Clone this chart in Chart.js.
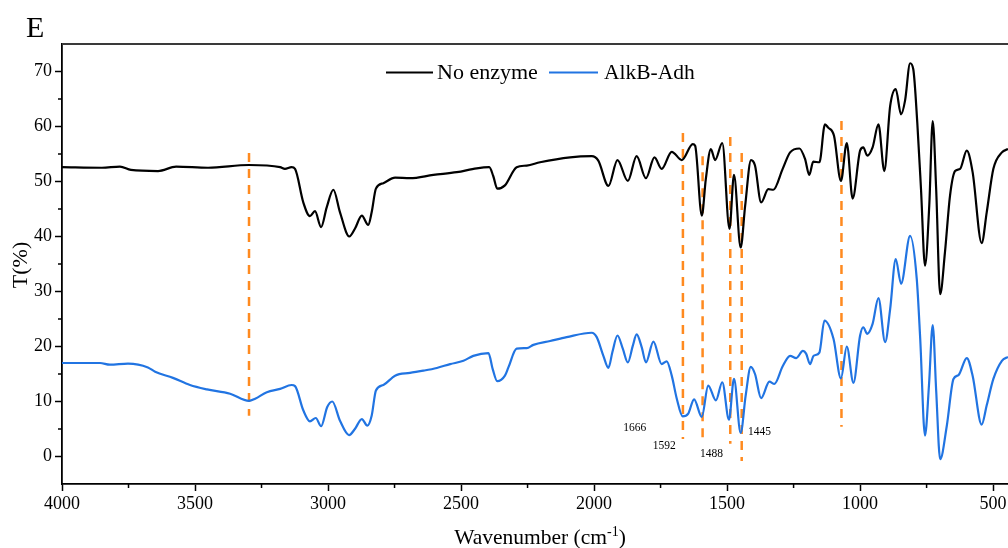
<!DOCTYPE html>
<html><head><meta charset="utf-8">
<script src="https://cdn.jsdelivr.net/npm/chart.js@4.4.1/dist/chart.umd.min.js"></script>
<style>html,body{margin:0;padding:0;background:#fff;overflow:hidden}canvas{display:block}</style>
</head><body>
<canvas id="c" width="1008" height="548"></canvas>
<script>
const xTicks = [4000,3500,3000,2500,2000,1500,1000,500];
const xMinorTicks = [3750,3250,2750,2250,1750,1250,750];
const yTicks = [0,10,20,30,40,50,60,70];
const yMinorTicks = [5,15,25,35,45,55,65];
const seriesNames = ['No enzyme','AlkB-Adh'];

const noEnzymeWn = [4000,3850,3782,3741,3639,3571,3451,3297,3180,3162,3137,3124,3093,3068,3049,3026,3005,2980,2955,2920,2899,2873,2849,2836,2820,2792,2748,2692,2604,2516,2441,2394,2379,2364,2335,2291,2253,2203,2090,2009,1984,1946,1912,1873,1840,1805,1773,1746,1708,1670,1629,1620,1595,1580,1561,1545,1518,1491,1474,1449,1432,1410,1395,1372,1345,1326,1291,1263,1228,1207,1191,1176,1153,1132,1120,1098,1072,1050,1028,1000,988,973,953,931,909,887,866,846,831,812,800,785,771,756,740,727,714,699,681,662,643,624,599,577,543,524,499,467,444];
const noEnzymeT = [52.6,52.5,52.7,52.1,51.9,52.7,52.5,53.0,52.6,52.3,52.6,52.3,46.2,43.7,44.6,41.7,45.3,48.5,44.4,40.0,41.4,43.8,42.1,44.4,48.7,49.7,50.7,50.6,51.2,51.7,52.4,52.6,51.0,48.7,49.3,52.6,52.9,53.5,54.4,54.6,53.8,49.2,53.9,50.1,54.6,50.6,54.4,52.3,55.4,53.9,56.8,56.5,43.8,50.4,55.9,53.9,57.0,41.4,51.2,38.0,45.6,53.9,52.9,46.2,48.6,48.5,52.3,55.3,56.0,54.1,51.2,53.6,53.5,60.4,59.8,58.3,50.1,57.0,46.9,55.6,56.2,54.7,56.2,60.4,51.9,63.7,66.8,62.2,64.7,71.5,70.4,60.7,48.6,34.7,45.6,61.0,48.6,29.5,37.1,47.4,51.9,52.3,55.6,51.7,38.8,44.4,52.3,55.3,55.9];

const alkbWn = [4000,3857,3820,3752,3677,3650,3583,3519,3455,3368,3297,3274,3230,3180,3137,3124,3093,3068,3046,3026,3003,2984,2955,2921,2899,2873,2852,2836,2820,2792,2748,2692,2642,2591,2541,2491,2454,2397,2381,2364,2335,2322,2291,2253,2228,2165,2103,2009,1990,1965,1946,1931,1912,1892,1873,1854,1840,1821,1805,1777,1746,1727,1708,1689,1667,1646,1624,1595,1571,1542,1518,1493,1474,1449,1430,1411,1395,1372,1341,1322,1291,1263,1240,1215,1203,1188,1175,1153,1134,1100,1072,1050,1025,1000,988,973,953,931,906,887,866,846,812,787,774,756,741,727,714,699,674,649,630,599,577,543,524,499,467,444];
const alkbT = [17.0,17.0,16.7,16.9,16.2,15.4,14.3,13.0,12.2,11.4,10.1,10.5,11.7,12.3,13.0,12.8,8.4,6.4,7.0,5.5,9.0,10.0,6.5,3.9,5.0,6.8,5.6,7.4,12.0,13.0,14.7,15.2,15.6,16.1,16.8,17.4,18.3,18.8,15.9,13.7,14.7,16.2,19.6,19.7,20.3,21.0,21.7,22.5,21.7,18.3,16.1,19.0,22.0,19.6,17.1,20.2,22.2,19.9,17.1,20.9,16.8,17.3,14.7,10.5,7.3,7.8,10.4,7.2,12.9,10.2,13.5,6.7,14.1,4.3,11.1,16.3,15.0,10.6,13.6,13.2,16.4,18.3,17.9,19.2,18.7,16.8,18.3,18.9,24.7,21.4,14.2,20.0,13.4,22.0,23.5,22.3,24.1,28.8,20.8,26.8,35.9,31.4,40.1,32.3,21.4,3.8,13.0,23.9,12.0,-0.5,5.6,14.1,14.8,17.9,14.7,5.8,9.3,14.1,17.4,18.1];

const markerWn = [3297,1666,1592,1488,1445,1070];
const markerTop = [55.2,58.8,54.6,58.1,55.2,61.0];
const markerBottom = [7.4,3.2,3.2,2.3,-0.8,5.4];

const peakLabels = ['1666','1592','1488','1445'];
const peakLabelWn = [1847,1736,1559,1378];
const peakLabelT = [5.1,1.85,0.4,4.43];

const BLACK = '#000000', BLUE = '#2174e2', ORANGE = '#ff8a1f';
const SERIF = '"Liberation Serif", "Times New Roman", serif';
Chart.defaults.font.family = SERIF;
Chart.defaults.color = '#000';

const datasets = [
  {label: seriesNames[0], data: noEnzymeWn.map((w,i)=>({x:w,y:noEnzymeT[i]})), borderColor: BLACK, borderWidth: 2.2, pointRadius: 0, cubicInterpolationMode: 'monotone', fill: false},
  {label: seriesNames[1], data: alkbWn.map((w,i)=>({x:w,y:alkbT[i]})), borderColor: BLUE, borderWidth: 2.2, pointRadius: 0, cubicInterpolationMode: 'monotone', fill: false}
];
markerWn.forEach((w,i)=>{
  datasets.push({label: 'marker'+w, data: [{x:w,y:markerTop[i]},{x:w,y:markerBottom[i]}], borderColor: ORANGE, borderWidth: 2.5, borderDash: [9,7], pointRadius: 0, tension: 0, fill: false});
});

const deco = {
  id: 'deco',
  afterDraw(chart){
    const ctx = chart.ctx, a = chart.chartArea, xs = chart.scales.x, ys = chart.scales.y;
    ctx.save();
    ctx.strokeStyle = '#3a3a3a'; ctx.lineWidth = 1.8;
    ctx.beginPath(); ctx.moveTo(a.left, a.top); ctx.lineTo(a.right, a.top); ctx.stroke();
    ctx.strokeStyle = '#000'; ctx.lineWidth = 1.5;
    xMinorTicks.forEach(v=>{const p = xs.getPixelForValue(v); ctx.beginPath(); ctx.moveTo(p, a.bottom); ctx.lineTo(p, a.bottom+4); ctx.stroke();});
    yMinorTicks.forEach(v=>{const p = ys.getPixelForValue(v); ctx.beginPath(); ctx.moveTo(a.left, p); ctx.lineTo(a.left-4, p); ctx.stroke();});
    // peak labels
    ctx.fillStyle = '#000'; ctx.font = '11.5px ' + SERIF; ctx.textAlign = 'center'; ctx.textBaseline = 'middle';
    peakLabels.forEach((t,i)=>ctx.fillText(t, xs.getPixelForValue(peakLabelWn[i]), ys.getPixelForValue(peakLabelT[i])));
    // legend
    ctx.lineWidth = 2.2;
    ctx.strokeStyle = BLACK; ctx.beginPath(); ctx.moveTo(386, 72.5); ctx.lineTo(433, 72.5); ctx.stroke();
    ctx.strokeStyle = BLUE; ctx.beginPath(); ctx.moveTo(549, 72.5); ctx.lineTo(598, 72.5); ctx.stroke();
    ctx.font = '22px ' + SERIF; ctx.textAlign = 'left'; ctx.textBaseline = 'alphabetic';
    ctx.fillText(seriesNames[0], 437, 79);
    ctx.font = '21.5px ' + SERIF;
    ctx.fillText(seriesNames[1], 604, 79);
    // panel letter
    ctx.font = '30px ' + SERIF; ctx.fillText('E', 26, 37);
    // y title
    ctx.save(); ctx.translate(27, 265); ctx.rotate(-Math.PI/2);
    ctx.font = '22px ' + SERIF; ctx.textAlign = 'center'; ctx.fillText('T(%)', 0, 0);
    ctx.restore();
    // x title
    const f1 = '21.5px ' + SERIF, f2 = '14px ' + SERIF;
    ctx.font = f1; const w1 = ctx.measureText('Wavenumber (cm').width, w3 = ctx.measureText(')').width;
    ctx.font = f2; const w2 = ctx.measureText('-1').width;
    let x0 = 540 - (w1+w2+w3)/2, yb = 544;
    ctx.textAlign = 'left';
    ctx.font = f1; ctx.fillText('Wavenumber (cm', x0, yb);
    ctx.font = f2; ctx.fillText('-1', x0+w1, yb-8);
    ctx.font = f1; ctx.fillText(')', x0+w1+w2, yb);
    ctx.restore();
  }
};

new Chart(document.getElementById('c'), {
  type: 'line',
  data: {datasets},
  options: {
    responsive: false, animation: false, devicePixelRatio: 1,
    layout: {padding: {top: 44, left: 0, right: 0, bottom: 0}},
    plugins: {legend: {display: false}, tooltip: {enabled: false}},
    scales: {
      x: {
        type: 'linear', reverse: true, min: 444, max: 4000,
        afterBuildTicks: s => { s.ticks = xTicks.map(v=>({value:v})); },
        afterFit: s => { s.height = 64; s.paddingLeft = 0; s.paddingRight = 0; },
        ticks: {font: {size: 18}, color: '#000', padding: 2, maxRotation: 0, autoSkip: false, callback: v => String(v)},
        grid: {drawOnChartArea: false, tickLength: 7, tickWidth: 1.5, tickColor: '#000'},
        border: {display: true, color: '#000', width: 1.8}
      },
      y: {
        type: 'linear', min: -5, max: 75,
        afterBuildTicks: s => { s.ticks = yTicks.map(v=>({value:v})); },
        afterFit: s => { s.width = 62; s.paddingTop = 0; s.paddingBottom = 0; },
        ticks: {font: {size: 18}, color: '#000', padding: 3, callback: v => String(v)},
        grid: {drawOnChartArea: false, tickLength: 7, tickWidth: 1.5, tickColor: '#000'},
        border: {display: true, color: '#000', width: 1.8}
      }
    }
  },
  plugins: [deco]
});
</script>
</body></html>
